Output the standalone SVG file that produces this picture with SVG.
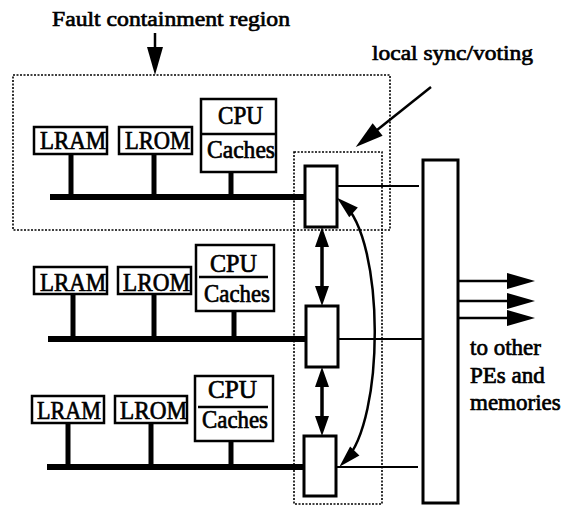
<svg xmlns="http://www.w3.org/2000/svg" width="565" height="506" viewBox="0 0 565 506">
<defs>
<marker id="ahBig" markerUnits="userSpaceOnUse" markerWidth="28" markerHeight="16" refX="20" refY="8" orient="auto-start-reverse" overflow="visible">
<path d="M0,0 L28,8 L0,16 z" fill="#000"/>
</marker>
<marker id="ahSmall" markerUnits="userSpaceOnUse" markerWidth="20" markerHeight="14" refX="13" refY="7" orient="auto-start-reverse" overflow="visible">
<path d="M0,0 L20,7 L0,14 z" fill="#000"/>
</marker>
<marker id="ahCurve" markerUnits="userSpaceOnUse" markerWidth="22" markerHeight="13" refX="14" refY="6.5" orient="auto-start-reverse" overflow="visible">
<path d="M0,0 L22,6.5 L0,13 z" fill="#000"/>
</marker>
</defs>
<style>
text{font-family:'Liberation Serif','Times New Roman',serif;fill:#000;stroke:#000;stroke-width:0.7;font-size:23px}
text.mem{font-size:26px}
text.cpu{font-size:25px}
.box{fill:#fff;stroke:#000;stroke-width:2.5}
.stem{stroke:#000;stroke-width:5}
.bus{stroke:#000;stroke-width:6}
.dot{fill:none;stroke:#000;stroke-width:1.6;stroke-dasharray:2 1.5}
.thin{stroke:#000;stroke-width:2;fill:none}
.bar{stroke:#000;stroke-width:2.5;fill:none}
.voter{fill:#fff;stroke:#000;stroke-width:3}
.arr{stroke:#000;stroke-width:2.5;fill:none}
.darr{stroke:#000;stroke-width:3.5;fill:none}
</style>
<rect width="565" height="506" fill="#fff"/>

<g id="labels">
<text x="52" y="26" style="font-size:22px" textLength="238" lengthAdjust="spacingAndGlyphs">Fault containment region</text>
<text x="372" y="60" style="font-size:22px" textLength="161" lengthAdjust="spacingAndGlyphs">local sync/voting</text>
</g>

<g id="fault-region">
<rect class="dot" x="13" y="75" width="377" height="155"/>
</g>
<g id="sync-region">
<rect class="dot" x="294" y="152" width="88" height="352"/>
</g>

<g id="pe1">
<line class="bus" x1="50" y1="197" x2="306" y2="197"/>
<line class="stem" x1="71" y1="154" x2="71" y2="197"/>
<line class="stem" x1="154" y1="154" x2="154" y2="197"/>
<line class="stem" x1="231" y1="172" x2="231" y2="197"/>
<g id="lram1"><rect class="box" x="34" y="127" width="73" height="27"/><text class="mem" x="40" y="149" textLength="66" lengthAdjust="spacingAndGlyphs">LRAM</text></g>
<g id="lrom1"><rect class="box" x="119" y="127" width="73" height="27"/><text class="mem" x="125" y="149" textLength="65" lengthAdjust="spacingAndGlyphs">LROM</text></g>
<g id="cpu1"><rect class="box" x="201" y="99" width="75" height="73"/><line class="bar" x1="201" y1="134" x2="276" y2="134"/>
<text class="cpu" x="218" y="124" textLength="45" lengthAdjust="spacingAndGlyphs">CPU</text><text class="cpu" x="207" y="158" textLength="68" lengthAdjust="spacingAndGlyphs">Caches</text></g>
</g>

<g id="pe2">
<line class="bus" x1="48" y1="339" x2="306" y2="339"/>
<line class="stem" x1="73" y1="294" x2="73" y2="339"/>
<line class="stem" x1="154" y1="294" x2="154" y2="339"/>
<line class="stem" x1="234" y1="311" x2="234" y2="339"/>
<g id="lram2"><rect class="box" x="34" y="267" width="73" height="27"/><text class="mem" x="40" y="291" textLength="66" lengthAdjust="spacingAndGlyphs">LRAM</text></g>
<g id="lrom2"><rect class="box" x="118" y="267" width="73" height="27"/><text class="mem" x="123" y="291" textLength="67" lengthAdjust="spacingAndGlyphs">LROM</text></g>
<g id="cpu2"><rect class="box" x="196" y="245" width="78" height="66"/><line class="bar" x1="199" y1="277" x2="268" y2="277"/>
<text class="cpu" x="210" y="272" textLength="47" lengthAdjust="spacingAndGlyphs">CPU</text><text class="cpu" x="204" y="302" textLength="66" lengthAdjust="spacingAndGlyphs">Caches</text></g>
</g>

<g id="pe3">
<line class="bus" x1="47" y1="467" x2="304" y2="467"/>
<line class="stem" x1="68" y1="423" x2="68" y2="467"/>
<line class="stem" x1="151" y1="423" x2="151" y2="467"/>
<line class="stem" x1="231" y1="441" x2="231" y2="467"/>
<g id="lram3"><rect class="box" x="32" y="396" width="72" height="27"/><text class="mem" x="37" y="419" textLength="64" lengthAdjust="spacingAndGlyphs">LRAM</text></g>
<g id="lrom3"><rect class="box" x="115" y="396" width="72" height="27"/><text class="mem" x="120" y="419" textLength="67" lengthAdjust="spacingAndGlyphs">LROM</text></g>
<g id="cpu3"><rect class="box" x="195" y="376" width="78" height="65"/><line class="bar" x1="198" y1="407" x2="268" y2="407"/>
<text class="cpu" x="208" y="398" textLength="49" lengthAdjust="spacingAndGlyphs">CPU</text><text class="cpu" x="202" y="428" textLength="66" lengthAdjust="spacingAndGlyphs">Caches</text></g>
</g>

<g id="voter1"><rect class="voter" x="305" y="166" width="32" height="61"/></g>
<g id="voter2"><rect class="voter" x="306" y="306" width="32" height="61"/></g>
<g id="voter3"><rect class="voter" x="304" y="436" width="32" height="60"/></g>

<g id="interconnect"><rect class="voter" x="423" y="160" width="35" height="343"/></g>

<g id="connectors">
<line class="arr" x1="155" y1="33" x2="155" y2="67" marker-end="url(#ahBig)"/>
<line class="arr" x1="431" y1="87" x2="362" y2="142" marker-end="url(#ahBig)"/>
<line class="thin" x1="337" y1="186" x2="419" y2="186"/>
<line class="thin" x1="338" y1="339" x2="423" y2="339"/>
<line class="thin" x1="336" y1="467" x2="418" y2="467"/>
<line class="darr" x1="322" y1="234" x2="322" y2="299" marker-start="url(#ahSmall)" marker-end="url(#ahSmall)"/>
<line class="darr" x1="322" y1="374" x2="322" y2="429" marker-start="url(#ahSmall)" marker-end="url(#ahSmall)"/>
<path class="arr" d="M343,203 C385,240 385,420 345,461" marker-start="url(#ahCurve)" marker-end="url(#ahCurve)"/>
<line class="bar" x1="458" y1="281" x2="527" y2="281" marker-end="url(#ahBig)"/>
<line class="bar" x1="458" y1="301" x2="527" y2="301" marker-end="url(#ahBig)"/>
<line class="bar" x1="458" y1="318" x2="527" y2="318" marker-end="url(#ahBig)"/>
</g>

<g id="output-label">
<text x="470" y="355">to other</text>
<text x="470" y="383">PEs and</text>
<text x="470" y="410">memories</text>
</g>
</svg>
